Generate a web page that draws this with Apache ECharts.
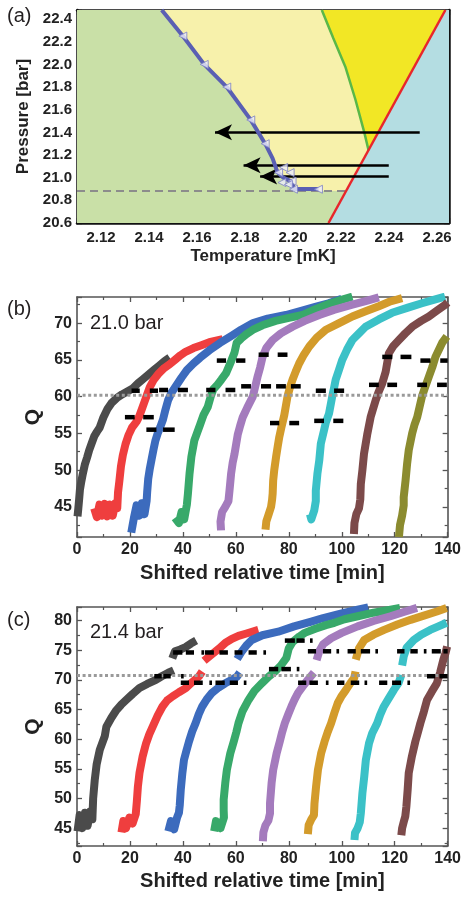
<!DOCTYPE html>
<html><head><meta charset="utf-8">
<script src="https://cdn.jsdelivr.net/npm/echarts@6/dist/echarts.min.js"></script>
<style>html,body{margin:0;padding:0;background:#fff;}#c{width:464px;height:897px;}</style>
</head><body><div id="c"></div>
<script>
// ================= Panel (a): phase diagram =================
const aXLabels = [2.12, 2.14, 2.16, 2.18, 2.20, 2.22, 2.24, 2.26];
const aYLabels = [20.6, 20.8, 21.0, 21.2, 21.4, 21.6, 21.8, 22.0, 22.2, 22.4];
const blueLine = [[2.1453,22.48],[2.1541,22.25],[2.163,22.0],[2.1724,21.80],[2.1824,21.51],[2.1884,21.30],[2.1915,21.17],[2.1935,21.05],[2.196,21.0],[2.199,20.97],[2.2,20.93],[2.2002,20.9],[2.2106,20.9]];
const blueMarkers = [[2.1541,22.25],[2.163,22.0],[2.1724,21.80],[2.1824,21.51],[2.1884,21.30],[2.1961,21.09],[2.194,21.045],[2.1988,21.045],[2.1954,20.957],[2.1996,20.97],[2.1981,20.94],[2.2002,20.898],[2.2106,20.898]];
const greenLine = [[2.212,22.48],[2.2168,22.23],[2.2218,21.98],[2.226,21.69],[2.2297,21.4],[2.2315,21.24]];
const redLine = [[2.2148,20.6],[2.2635,22.48]];
const dashA = [[2.11,20.883],[2.2221,20.883]];
const arrowsA = [[2.1675,2.2528,21.4],[2.1794,2.2399,21.109],[2.1863,2.2399,21.01]];
const plotA = {xmin:2.11, xmax:2.265, ymin:20.6, ymax:22.48};

// ================= Panel (b): 21.0 bar =================
const bXLabels = [0,20,40,60,80,100,120,140];
const bYLabels = [45,50,55,60,65,70];
const bThreshold = 60.2;
const grayB = [[0.2,43.7],[0.5,44.8],[0.8,46.0],[1.1,47.3],[1.6,48.4],[2.2,49.5],[3.0,50.8],[3.8,51.7],[4.6,52.7],[5.5,53.6],[6.5,54.6],[7.5,55.2],[8.6,55.8],[10,57.2],[11.5,58.3],[13,59.1],[15,59.8],[17,60.3],[19,60.7],[21,61.1],[23,61.8],[25,62.4],[27,63.0],[29,63.6],[31,64.2],[33,64.8],[35,65.3]];
const redB = [[6.5,44.8],[7.5,43.6],[8.5,45.3],[9.5,43.8],[10.5,45.4],[11.5,43.7],[12.5,45.3],[13.5,43.8],[14.5,45.5],[15.2,44.8],[15.5,47],[16,48.5],[16.6,50.5],[17.3,52],[18.3,53.5],[19.5,54.8],[20.8,55.8],[22.5,56.6],[23.5,57.3],[24.5,58.3],[25.5,59.3],[26.5,60.3],[27.5,61.3],[29,62.3],[31,63.2],[33,63.9],[35,64.4],[37,65.0],[39,65.6],[41,66.1],[44,66.6],[47,67.0],[50,67.4],[55,67.8]];
const blueB = [[20.5,41.5],[21,42.5],[21.5,43.5],[22.5,45.2],[23.5,43.8],[24.5,45.5],[25.5,44],[26.3,45.8],[26.5,47],[26.9,48.8],[27.5,50.2],[28.2,51.5],[28.9,52.8],[29.6,54],[30.5,55],[31.5,55.9],[32.5,56.9],[33.4,58.2],[34.4,59.5],[35.8,60.6],[37.5,61.5],[39.5,62.6],[41.5,63.6],[44,64.5],[46.5,65.3],[50,66.3],[54,67.3],[58.5,68.3],[62,69.1],[66.5,70],[72,70.6],[78.9,71.1],[85,71.7],[90,72.2],[95,72.7],[100,73.3]];
const greenB = [[37,43.5],[38.5,42.8],[39.5,44.3],[40.5,43.3],[41.5,45.3],[41.9,46.8],[42.5,49.5],[43.2,51.8],[44.3,54],[45.5,55.2],[46.5,56.2],[47.8,57.5],[49.4,58.6],[50.5,60],[51.5,61],[53,61.6],[54.5,62.3],[56.3,63.2],[58.2,64.8],[59.5,66],[60.3,67.3],[62,67.9],[64,68.5],[66.5,69.1],[70,69.7],[75,70.3],[80,70.7],[85.2,71.1],[90,71.9],[95,72.6],[100.2,73.2],[104,73.6]];
const purpleB = [[54.4,41.8],[54.2,43],[54.8,44.3],[56,45],[57.2,45.8],[57.6,47.2],[58.2,49.5],[58.8,51],[59.5,52.2],[60.1,53.5],[60.7,54.8],[61.6,56],[62.6,57.2],[64.3,58.5],[66.4,60],[67.4,61.5],[68.2,62.7],[69.2,64],[70.1,65.4],[71.5,66.6],[73.9,67.7],[77,68.6],[81.4,69.5],[86,70.3],[91.5,71.1],[97,71.8],[104,72.5],[109,73],[114,73.5]];
const goldB = [[71.2,41.9],[71.5,43],[72.4,44],[73.3,45],[73.7,46],[73.9,46.8],[74.1,48.6],[74.5,50],[75.2,51.8],[75.8,53.2],[76.4,54.5],[77.2,55.8],[78.3,57.5],[79.5,60],[80.4,61.2],[81.4,62.3],[82.6,63.4],[83.9,64.5],[85.7,65.7],[87.7,66.8],[90.5,68],[94,69.1],[99,70],[104,70.9],[109,71.6],[114,72.3],[118,72.9],[122.8,73.4]];
const cyanB = [[88,44],[88.5,43.3],[89.6,44.5],[90.2,45.8],[90.2,47.2],[90.8,49.5],[91.5,51.3],[92.1,53.6],[93.3,55.4],[94,56.5],[95.2,57.7],[96.5,60.2],[97.1,61.2],[97.7,62.3],[99,63.7],[100.2,65],[102,66.4],[104,67.7],[106.5,68.6],[109,69.5],[114,70.5],[119,71.4],[125,72.1],[130.3,72.7],[135,73.2],[139,73.6]];
const brownB = [[104.6,41.3],[104.8,42.8],[105.5,44],[106.5,44.8],[107,46],[107.2,48.1],[107.8,50],[108.4,52.2],[109,53.5],[109.6,54.8],[110.9,57.2],[111.8,58.3],[112.8,59.5],[114,60.7],[115.3,61.8],[116.6,63.4],[117.8,65.9],[119.5,66.9],[121.6,67.7],[124,68.6],[126.6,69.5],[130,70.3],[132.9,70.9],[136,71.7],[139.1,72.5],[140,72.8]];
const oliveB = [[121.6,40.9],[122,42.5],[122.8,43.8],[123.4,45.2],[123.4,46.3],[124.1,48.6],[124.7,50.9],[125.3,52.7],[126.6,55],[127.5,56.2],[128.5,57.2],[129.4,58.6],[130.3,60],[131.6,61.4],[132.9,62.7],[134.2,64],[135.4,65.4],[137.9,67.3],[139.7,68.2]];
// black dash marks: [t start, t end, Q]
const dashB = [[20.6,23.7,60.8],[27.5,30.6,60.8],[18.1,21.8,57.2],[25,29,57.2],[26.2,30,55.5],[32.5,36.9,55.5],[31,34.4,60.9],[38.1,41.9,60.9],[48.8,52.3,60.9],[56.1,59.8,60.9],[52.8,56.3,64.9],[60.1,63.6,64.9],[62,65.7,61.4],[69.5,73.3,61.4],[68.6,72.4,65.7],[75.8,79.5,65.7],[75.2,78.9,61.4],[80.8,84.5,61.4],[72.9,76.4,56.4],[80.2,83.9,56.4],[90.2,94,60.8],[97.1,100.9,60.8],[89.6,93.3,56.7],[96.8,100.6,56.7],[110.3,114,61.6],[117.2,120.9,61.6],[115.3,119.1,65.4],[122.2,126.3,65.4],[128.5,132.2,61.6],[136,139.7,61.6],[129.7,133.5,64.9],[137.2,140,64.9]];

// ================= Panel (c): 21.4 bar =================
const cXLabels = [0,20,40,60,80,100,120,140];
const cYLabels = [45,50,55,60,65,70,75,80];
const cThreshold = 70.7;
const GAP = ['-','-'];
const grayC = [[0.2,44.5],[1,47.2],[2,45.0],[3,47.6],[4,45.4],[5,47.8],[5.8,46.5],[6.1,50],[6.7,53.1],[7.4,55.7],[8.6,58.2],[10.5,60.5],[11.1,62.1],[13,63.6],[14.9,64.9],[16.7,65.8],[18.6,66.6],[21,67.6],[23.6,68.6],[26.5,69.3],[29.8,70],[32,70.6],[34.5,71.2],[36.5,71.6],GAP,[36,73.6],[37,74.8],[39,75.1],[41,75.5],[43,76.1],[45,76.6]];
const redC = [[16.8,44.3],[17.5,46.2],[18.5,45],[19.8,46.8],[21,45.8],[22.2,47.4],[22.6,49.5],[23,52],[23.6,54.3],[24.8,57.1],[26.1,59.3],[27.3,60.8],[28.6,62.1],[30.5,64],[32.3,65.5],[34,66.5],[36.1,67.2],[38.5,67.9],[41.1,68.6],[43.5,69.6],[46.1,70.6],[47.3,71.4],GAP,[48,73.2],[51,74.3],[53.5,75.2],[56,76.2],[58.5,76.9],[61,77.4],[64,77.8],[68.5,78.4]];
const blueC = [[34.5,44.5],[35.5,46.2],[36.7,44.8],[37.8,46.8],[38.5,47.6],[38.8,48.8],[39.2,51.5],[39.8,54.3],[40.4,56.5],[41.3,58],[42.3,59.6],[43.5,61.3],[44.8,62.7],[46,64.2],[47.3,65.5],[49,66.7],[51,67.8],[53.5,68.7],[56,69.4],[58.5,70],[60.4,70.5],[61.5,71.2],GAP,[60.5,73.5],[62,74.6],[64,75.8],[66,76.7],[70,77.5],[76,78.1],[82,79],[88.5,79.8],[93,80.4],[98.5,81],[102,81.4],[106,81.8],[110,82.2]];
const greenC = [[51.8,44.5],[52.5,46.2],[54.2,45.0],[55.5,46.8],[55.4,48],[55.4,49.8],[56,52.6],[56.6,54.8],[57.9,57.6],[59.2,59.6],[60.2,61.2],[61,62.7],[62.5,64.7],[64.8,66.6],[67,68.1],[69.8,69.4],[72.3,70.5],[74.8,71.4],[77,72.4],[79.1,73.7],[80,75.3],[81.5,76.4],[84,77.3],[86,77.9],[90,78.6],[94,79.2],[97.2,79.6],[101,80.2],[106,80.7],[112,81.3],[118.4,81.8],[122,82.1]];
const purpleC = [[70.2,42.8],[70.4,44.3],[71.2,45.5],[72.3,46.3],[72.9,47.5],[72.9,49.2],[73.5,52.6],[74.1,54.8],[75.4,57.6],[76.6,59.6],[77.5,61.2],[78.5,62.7],[79.8,64.2],[81,65.5],[82.2,66.7],[83.5,67.8],[85.5,69],[87.2,70],[89.5,71.2],GAP,[90.5,73.3],[91.5,74.8],[93,76],[96,77],[100,77.9],[106,79],[112,79.9],[118.4,80.7],[124,81.5],[128.4,82.1]];
const goldC = [[87.2,44],[87.5,45.5],[88.5,46.5],[89.5,47.2],[89.7,49.2],[90.3,52],[91,54.8],[92.2,57.6],[93.5,59.6],[94.7,61.2],[96,62.7],[97.2,64.4],[98.5,66.1],[100,67.3],[101.6,68.3],[103.2,69.4],[104.7,70.3],[105.2,71.4],GAP,[105.3,73.4],[106.5,75.3],[108.5,76.7],[112,77.6],[116,78.4],[121,79.3],[126,80.1],[131,80.8],[135.9,81.5],[139.6,82.1]];
const cyanC = [[104.8,43],[105,44.2],[106,45],[106.8,46],[107.2,47.5],[107.8,50.9],[108.5,53.7],[109.1,56.5],[110.3,59.3],[111.5,61],[113.4,62.7],[114.5,64.1],[115.9,65.5],[117.8,66.9],[119.7,68.3],[121.5,69.5],[122.5,70.8],GAP,[122.8,72.4],[123.4,73.9],[124.5,75.4],[127.2,76.7],[130,77.6],[133.4,78.4],[136.5,79],[139.6,79.6]];
const brownC = [[122.5,43.8],[122.8,45],[123.5,46.2],[124,47],[124.4,48.6],[124.9,51.5],[125.3,54.3],[126.5,57.1],[127.8,59.6],[128.8,61.2],[129.7,62.7],[131,64.6],[132.2,66.6],[134,68],[135.9,69.4],[137.2,71.3],[138.4,73.4],[139.2,74.5],[139.8,75.6]];
const dashC = [[36.3,39.8,74.6],[41.1,44.2,74.6],[47.0,48.0,74.6],[48.3,51.7,74.6],[53.8,57.0,74.6],[59.5,62.5,74.6],[64.8,67.9,74.6],[70.4,71.4,74.6],
  [29.2,32.0,70.6],[32.6,35.4,70.6],[39.3,40.3,70.6],
  [39.2,42.3,69.5],[44.2,47.5,69.5],[50.0,51.0,69.5],[52.3,55.8,69.5],[57.7,60.8,69.5],[63.0,64.0,69.5],
  [72.5,76.0,71.8],[77.2,80.8,71.8],[83.0,84.0,71.8],
  [78.5,82.3,76.6],[82.9,86.0,76.6],[88.0,89.0,76.6],
  [87.2,90.3,74.8],[92.9,96.0,74.8],[98.0,99.0,74.8],[102.2,105.3,74.8],[107.2,110.7,74.8],[112.7,113.7,74.8],[120.9,123.7,74.8],[125.9,128.7,74.8],[131.0,132.0,74.8],[134.0,137.4,74.8],[138.4,140,74.8],
  [83.5,86.6,69.5],[87.8,91.0,69.5],[94.0,95.0,69.5],[98.2,101.0,69.5],[103.4,106.6,69.5],[108.6,109.6,69.5],[114.1,117.2,69.5],[119.0,122.4,69.5],[124.8,125.8,69.5],
  [132.2,135.3,70.6],[136.9,140,70.6]];

const curveColors = ['#4b4b4b','#ef3e3e','#3c6bbd','#38a96a','#a47bbd','#d39b2b','#3bc1c7','#7c4a4a','#8b8b2f'];

// ================= build option =================
const FONT = '"Liberation Sans", Arial, sans-serif';
const chart = echarts.init(document.getElementById('c'));

function hasLabel(list, v){ return list.some(t => Math.abs(t - v) < 1e-6); }

function xAx(grid, min, max, interval, pos, labels, dec, col, lw, extra){
  const ax = {gridIndex:grid, type:'value', position:pos, min, max, interval,
    axisLine:{show:true, onZero:false, lineStyle:{color:col, width:lw}},
    axisTick:{show:true, inside:true, length:5, lineStyle:{color:col, width:1.3}},
    splitLine:{show:false},
    axisLabel:{show: pos==='bottom', margin:5, fontSize:16, fontWeight:'bold', color:'#222', fontFamily:FONT,
      formatter: v => hasLabel(labels, v) ? v.toFixed(dec) : ''}};
  return Object.assign(ax, extra||{});
}
function yAx(grid, min, max, interval, pos, labels, dec, col, lw, extra){
  const ax = {gridIndex:grid, type:'value', position:pos, min, max,
    axisLine:{show:true, onZero:false, lineStyle:{color:col, width:lw}},
    axisTick:{show:true, inside:true, length:5, lineStyle:{color:col, width:1.3}},
    splitLine:{show:false},
    axisLabel:{show: pos==='left', margin:5, fontSize:16, fontWeight:'bold', color:'#222', fontFamily:FONT,
      formatter: v => hasLabel(labels, v) ? v.toFixed(dec) : ''}};
  if (interval) ax.interval = interval;
  return Object.assign(ax, extra||{});
}

const minorB = {minorTick:{show:true, splitNumber:2, length:3, lineStyle:{color:'#555', width:1.2}}};
const xAxes = [
  xAx(0, plotA.xmin, plotA.xmax, 0.01, 'bottom', aXLabels, 2, '#111', 2.5,
    {name:'Temperature [mK]', nameLocation:'middle', nameGap:25, nameTextStyle:{fontSize:17, fontWeight:'bold', color:'#222', fontFamily:FONT}}),
  xAx(0, plotA.xmin, plotA.xmax, 0.01, 'top', aXLabels, 2, '#111', 2.5),
  xAx(1, 0, 140, 20, 'bottom', bXLabels, 0, '#555', 1.6,
    Object.assign({name:'Shifted relative time [min]', nameLocation:'middle', nameGap:26, nameTextStyle:{fontSize:20, fontWeight:'bold', color:'#222', fontFamily:FONT}}, minorB)),
  xAx(1, 0, 140, 20, 'top', bXLabels, 0, '#555', 1.6, minorB),
  xAx(2, 0, 140, 20, 'bottom', cXLabels, 0, '#555', 1.6,
    Object.assign({name:'Shifted relative time [min]', nameLocation:'middle', nameGap:25, nameTextStyle:{fontSize:20, fontWeight:'bold', color:'#222', fontFamily:FONT}}, minorB)),
  xAx(2, 0, 140, 20, 'top', cXLabels, 0, '#555', 1.6, minorB)
];
xAxes[0].axisLabel.fontSize = 15; xAxes[0].axisLabel.margin = 7;
const yAxes = [
  yAx(0, plotA.ymin, plotA.ymax, 0.1, 'left', aYLabels, 1, '#111', 2.5,
    {name:'Pressure [bar]', nameLocation:'middle', nameGap:37, nameRotate:90, nameTextStyle:{fontSize:17, fontWeight:'bold', color:'#222', fontFamily:FONT}}),
  yAx(0, plotA.ymin, plotA.ymax, 0.1, 'right', aYLabels, 1, '#111', 2.5),
  yAx(1, 40.9, 73.55, null, 'left', bYLabels, 0, '#555', 1.6,
    Object.assign({splitNumber:7, name:'Q', nameLocation:'middle', nameGap:22, nameRotate:90, nameTextStyle:{fontSize:21, fontWeight:'bold', color:'#222', fontFamily:FONT}}, minorB)),
  yAx(1, 40.9, 73.55, null, 'right', bYLabels, 0, '#555', 1.6, Object.assign({splitNumber:7}, minorB)),
  yAx(2, 42.0, 82.26, null, 'left', cYLabels, 0, '#555', 1.6,
    Object.assign({splitNumber:8, name:'Q', nameLocation:'middle', nameGap:22, nameRotate:90, nameTextStyle:{fontSize:21, fontWeight:'bold', color:'#222', fontFamily:FONT}}, minorB)),
  yAx(2, 42.0, 82.26, null, 'right', cYLabels, 0, '#555', 1.6, Object.assign({splitNumber:8}, minorB))
];
yAxes[0].axisLabel.fontSize = 15;

function polySeries(verts, color, z){
  return {type:'custom', xAxisIndex:0, yAxisIndex:0, z, silent:true, animation:false,
    data:[verts[0]],
    renderItem:(p, api)=>({type:'polygon', shape:{points: verts.map(v=>api.coord(v))}, style:{fill:color}})};
}
function curve(data, color, xi, yi){
  return {type:'line', xAxisIndex:xi, yAxisIndex:yi, data, symbol:'none', connectNulls:false,
    lineStyle:{color, width:8, cap:'butt', join:'round'}, itemStyle:{color}, animation:false, silent:true, z:3};
}
function dashSeries(list, xi, yi){
  return {type:'custom', xAxisIndex:xi, yAxisIndex:yi, z:10, silent:true, animation:false, data:list,
    encode:{x:[0,1], y:2},
    renderItem:(p, api)=>{
      const a = api.coord([api.value(0), api.value(2)]);
      const b = api.coord([api.value(1), api.value(2)]);
      return {type:'line', shape:{x1:a[0], y1:a[1], x2:b[0], y2:b[1]}, style:{stroke:'#000', lineWidth:4.5}};
    }};
}
function hline(q, xi, yi){
  return {type:'line', xAxisIndex:xi, yAxisIndex:yi, data:[[0,q],[140,q]], symbol:'none', z:8,
    lineStyle:{color:'#9a9a9a', width:3, type:[3,2.6]}, animation:false, silent:true};
}

// pale-yellow region: right of blue line, above dashed line, left of red/green lines
const meet = greenLine[greenLine.length-1];
const paleYellow = blueLine.slice(0,12).concat([[blueLine[11][0], dashA[0][1]], [dashA[1][0], dashA[1][1]], meet], greenLine.slice(0,-1).reverse());
const brightYellow = greenLine.concat([redLine[1]]);
const cyanRegion = [redLine[0], redLine[1], [plotA.xmax, plotA.ymax], [plotA.xmax, plotA.ymin]];
const greenRegion = [[plotA.xmin, plotA.ymin], [plotA.xmax, plotA.ymin], [plotA.xmax, plotA.ymax], [plotA.xmin, plotA.ymax]];

const series = [
  polySeries(greenRegion, '#c9e0a7', 1),
  polySeries(paleYellow, '#f7f1ab', 1),
  polySeries(brightYellow, '#f2e725', 1),
  polySeries(cyanRegion, '#b4dde2', 1),
  {type:'line', xAxisIndex:0, yAxisIndex:0, data:dashA, symbol:'none', z:3, animation:false, silent:true,
    lineStyle:{color:'#8c8c8c', width:2, type:[8,5]}},
  {type:'line', xAxisIndex:0, yAxisIndex:0, data:greenLine, symbol:'none', z:4, animation:false, silent:true,
    lineStyle:{color:'#5ab848', width:2.5}},
  {type:'line', xAxisIndex:0, yAxisIndex:0, data:redLine, symbol:'none', z:4, animation:false, silent:true,
    lineStyle:{color:'#e8262b', width:2.5}},
  {type:'line', xAxisIndex:0, yAxisIndex:0, data:blueLine, symbol:'none', z:5, animation:false, silent:true,
    lineStyle:{color:'#5a5fb3', width:4}},
  {type:'scatter', xAxisIndex:0, yAxisIndex:0, data:blueMarkers, symbol:'triangle', symbolRotate:90, symbolSize:8, z:6,
    animation:false, silent:true, itemStyle:{color:'#eceefa', borderColor:'#7c80c4', borderWidth:1}},
  {type:'line', xAxisIndex:0, yAxisIndex:0, data:[], z:7, animation:false, silent:true,
    markLine:{silent:true, animation:false, symbol:['arrow','none'], symbolSize:[12,17],
      label:{show:false}, lineStyle:{color:'#000', width:2.5, type:'solid'},
      data: arrowsA.map(a => [{coord:[a[0], a[2]]}, {coord:[a[1], a[2]]}])}}
];
const bCurves = [grayB, redB, blueB, greenB, purpleB, goldB, cyanB, brownB, oliveB];
bCurves.forEach((d,i)=>series.push(curve(d, curveColors[i], 2, 2)));
series.push(hline(bThreshold, 2, 2));
series.push(dashSeries(dashB, 2, 2));
const cCurves = [grayC, redC, blueC, greenC, purpleC, goldC, cyanC, brownC];
cCurves.forEach((d,i)=>series.push(curve(d, curveColors[i], 4, 4)));
series.push(hline(cThreshold, 4, 4));
series.push(dashSeries(dashC, 4, 4));

const txt = (text, left, top, size) => ({type:'text', left, top, z:100,
  style:{text, font:`${size}px ${FONT}`, fill:'#231f20'}});

chart.setOption({
  animation:false,
  backgroundColor:'#fff',
  grid:[
    {left:77, top:10, width:372, height:213},
    {left:77, top:297, width:373, height:240},
    {left:77, top:607, width:374, height:239}
  ],
  xAxis:xAxes, yAxis:yAxes, series,
  graphic:[
    txt('(a)', 7, 6, 20), txt('(b)', 7, 299, 20), txt('(c)', 7, 610, 20),
    txt('21.0 bar', 90, 313, 20), txt('21.4 bar', 90, 622, 20)
  ]
});
</script></body></html>
